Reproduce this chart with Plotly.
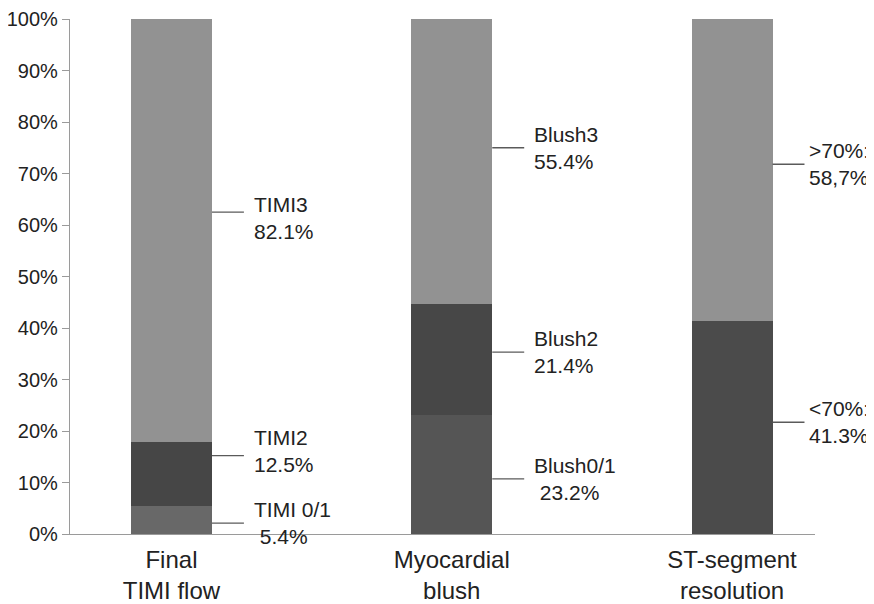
import plotly.graph_objects as go

# ---- data ----
categories = ["Final<br>TIMI flow", "Myocardial<br>blush", "ST-segment<br>resolution"]
bottom_vals = [5.4, 23.2, 41.3]
middle_vals = [12.5, 21.4, 0.0]
top_vals = [82.1, 55.4, 58.7]
bottom_labels = ["TIMI 0/1<br>\u00a05.4%", "Blush0/1<br>\u00a023.2%", "<70%:<br>41.3%"]
middle_labels = ["TIMI2<br>12.5%", "Blush2<br>21.4%", None]
top_labels = ["TIMI3<br>82.1%", "Blush3<br>55.4%", ">70%:<br>58,7%"]
y_ticks = list(range(0, 101, 10))
y_tick_labels = [f"{t}%" for t in y_ticks]

# ---- style / layout ----
bottom_colors = ["#686868", "#555555", "#4b4b4b"]
middle_colors = ["#464646", "#474747", "#474747"]
top_colors = ["#929292", "#929292", "#929292"]
bar_width = 0.289
leader_len = 0.114
label_xshift = [8, 8, 3]
# label nudges (in % units) relative to segment mid-points
bottom_dy = [-0.6, -0.9, 1.05]
middle_dy = [3.55, 1.4, 0.0]
top_dy = [3.55, 2.7, 1.15]
# text offsets (px) relative to the leader line
bottom_tshift = [0, 0, 0]
middle_tshift = [5, 0, 0]
top_tshift = [-6, 0, 0]

FONT = "Liberation Sans, Arial, sans-serif"
x_pos = list(range(len(categories)))

fig = go.Figure()
for vals, cols in ((bottom_vals, bottom_colors), (middle_vals, middle_colors), (top_vals, top_colors)):
    fig.add_trace(go.Bar(x=x_pos, y=vals, width=bar_width,
                         marker=dict(color=cols, line=dict(width=0)),
                         hoverinfo="skip", showlegend=False))

shapes = []
annotations = []
for i in x_pos:
    base = 0.0
    for vals, labels, dys, tsh in ((bottom_vals, bottom_labels, bottom_dy, bottom_tshift),
                                   (middle_vals, middle_labels, middle_dy, middle_tshift),
                                   (top_vals, top_labels, top_dy, top_tshift)):
        v = vals[i]
        if labels[i] is not None and v > 0:
            y = base + v / 2 + dys[i]
            x0 = i + bar_width / 2
            x1 = x0 + leader_len
            shapes.append(dict(type="line", xref="x", yref="y", x0=x0, x1=x1, y0=y, y1=y,
                               line=dict(color="#5a5a5a", width=1.3)))
            annotations.append(dict(x=x1, y=y, xref="x", yref="y", text=labels[i],
                                    showarrow=False, xanchor="left", yanchor="middle",
                                    align="left", xshift=label_xshift[i], yshift=tsh[i],
                                    font=dict(family=FONT, size=21, color="#222222")))
        base += v

fig.update_layout(
    barmode="stack",
    width=874, height=604,
    margin=dict(l=62, r=67, t=11, b=78, pad=0),
    paper_bgcolor="white", plot_bgcolor="white",
    shapes=shapes, annotations=annotations,
    font=dict(family=FONT, color="#222222"),
    xaxis=dict(range=[-0.362, 2.296], tickvals=x_pos, ticktext=categories,
               showline=True, linecolor="#9a9a9a", linewidth=1.2,
               ticks="", showgrid=False, zeroline=False, automargin=False,
               ticklabelstandoff=4,
               tickfont=dict(family=FONT, size=24, color="#222222")),
    yaxis=dict(range=[0, 100], tickvals=y_ticks, ticktext=y_tick_labels,
               showline=True, linecolor="#9a9a9a", linewidth=1.2,
               ticks="outside", ticklen=7, tickcolor="#9a9a9a", tickwidth=1.2,
               showgrid=False, zeroline=False, automargin=False,
               tickfont=dict(family=FONT, size=20, color="#222222")),
)

fig.write_html("out.html")
